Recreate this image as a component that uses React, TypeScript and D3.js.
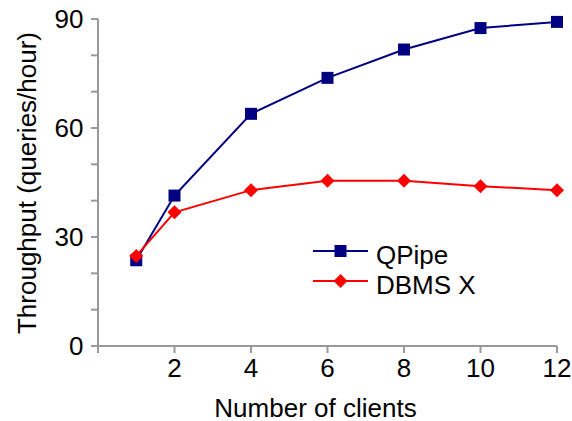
import React from 'react';
import * as d3 from 'd3';

// data
const clients = [1, 2, 4, 6, 8, 10, 12];
const qpipe = [23.6, 41.4, 63.9, 73.8, 81.6, 87.5, 89.2];
const dbmsx = [24.8, 36.8, 42.9, 45.5, 45.5, 44.0, 42.9];
const xTicks = [2, 4, 6, 8, 10, 12];
const yMinorTicks = [0, 10, 20, 30, 40, 50, 60, 70, 80, 90];
const yLabels = [0, 30, 60, 90];

const W = 572, H = 421;
const left = 98, right = 557, top = 19, bottom = 346;
const axisColor = '#999999';
const font = 'Arial, "Liberation Sans", sans-serif';
const fs = 26;

export default function App() {
  const x = d3.scaleLinear().domain([0, 12]).range([left, right]);
  const y = d3.scaleLinear().domain([0, 90]).range([bottom, top]);

  const line = d3.line<number>()
    .x((d, i) => x(clients[i]))
    .y(d => y(d));

  const series = [
    { name: 'QPipe', values: qpipe, color: '#000080', marker: 'square' },
    { name: 'DBMS X', values: dbmsx, color: '#ff0000', marker: 'diamond' },
  ];

  const square = d3.symbol().type(d3.symbolSquare).size(144)();
  const diamond = (s: number) => `M0,${-s}L${s},0L0,${s}L${-s},0Z`;

  const label = (tx: number, ty: number, txt: string | number, anchor: string, rot = 0, key?: string) => (
    <text key={key} transform={`translate(${tx},${ty}) rotate(${rot})`}
      textAnchor={anchor} fontFamily={font} fontSize={fs} fill="#000">{txt}</text>
  );

  return (
    <svg width={W} height={H} style={{ position: 'absolute', left: 0, top: 0, background: '#fff' }}>
      <rect width={W} height={H} fill="#fff" />
      {/* y axis */}
      <line x1={left} x2={left} y1={top} y2={bottom} stroke={axisColor} strokeWidth={2} />
      {yMinorTicks.map(t => (
        <line key={'yt' + t} x1={left - 7} x2={left} y1={y(t)} y2={y(t)} stroke={axisColor} strokeWidth={2} />
      ))}
      {yLabels.map(t => label(83.5, y(t) + 9, t, 'end', 0, 'yl' + t))}
      {/* x axis */}
      <line x1={left} x2={right} y1={bottom} y2={bottom} stroke={axisColor} strokeWidth={2} />
      {[0, ...xTicks].map(t => (
        <line key={'xt' + t} x1={x(t)} x2={x(t)} y1={bottom} y2={bottom + 7} stroke={axisColor} strokeWidth={2} />
      ))}
      {xTicks.map(t => label(x(t), 376.5, t, 'middle', 0, 'xl' + t))}
      {label(315.5, 416.5, 'Number of clients', 'middle')}
      {label(36, 183, 'Throughput (queries/hour)', 'middle', -90)}

      {/* series */}
      {series.map(s => (
        <g key={s.name}>
          <path d={line(s.values) || ''} fill="none" stroke={s.color} strokeWidth={2} />
          {s.values.map((v, i) => (
            <path key={i} transform={`translate(${x(clients[i])},${y(v)})`}
              d={s.marker === 'square' ? square || '' : diamond(7)} fill={s.color} />
          ))}
        </g>
      ))}

      {/* legend */}
      {series.map((s, i) => {
        const ly = 251 + i * 30;
        return (
          <g key={'lg' + s.name}>
            <line x1={313} x2={368} y1={ly} y2={ly} stroke={s.color} strokeWidth={2} />
            <path transform={`translate(340.5,${ly})`} d={s.marker === 'square' ? square || '' : diamond(7)} fill={s.color} />
            {label(376, ly + 12.5, s.name, 'start')}
          </g>
        );
      })}
    </svg>
  );
}
